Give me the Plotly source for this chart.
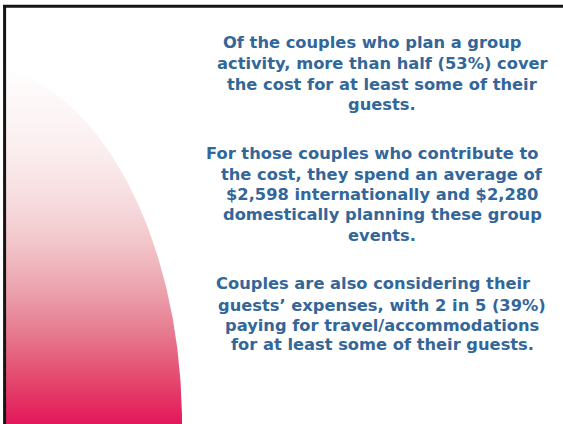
import numpy as np
import plotly.graph_objects as go

W, H = 563, 424

# Text content (one entry per rendered line), with line centres in pixels
para_lines = [
    "Of the couples who plan a group",
    "activity, more than half (53%) cover",
    "the cost for at least some of their",
    "guests.",
    "For those couples who contribute to",
    "the cost, they spend an average of",
    "$2,598 internationally and $2,280",
    "domestically planning these group",
    "events.",
    "Couples are also considering their",
    "guests\u2019 expenses, with 2 in 5 (39%)",
    "paying for travel/accommodations",
    "for at least some of their guests.",
]
line_x = [372, 382, 382, 382, 372, 382, 382, 382, 382, 373, 382, 382, 382]
line_y = [42, 63, 84, 104.5, 153.6, 174, 194, 214.6, 235, 283.7, 305, 325.4, 344.8]

TEXT_COLOR = "#336699"

# Gradient stops (fraction from bottom of shape, colour)
grad_pos = [0.0, 0.122, 0.252, 0.371, 0.504, 0.620, 0.759, 1.0]
grad_col = ["#E3175A", "#E4486C", "#E67A8F", "#ECA2AD", "#F2C6CB", "#F7DCDF", "#FBEEEF", "#FFFFFF"]

# Decorative quarter-ellipse on the left (pixel geometry)
cx, cy, a, b = -30, 424, 212, 361
left_edge = 5
ys = np.linspace(cy - b, cy, 200)
xs = cx + a * np.sqrt(np.clip(1 - ((cy - ys) / b) ** 2, 0, 1))
xs = np.maximum(xs, left_edge)
poly_x = np.concatenate([[left_edge], xs, [left_edge]])
poly_y = np.concatenate([[cy - b], ys, [cy]])
poly_y_up = H - poly_y

fig = go.Figure()
fig.add_trace(go.Scatter(
    x=poly_x, y=poly_y_up, mode="lines", fill="toself",
    line=dict(width=0, color="rgba(0,0,0,0)"),
    fillgradient=dict(type="vertical", colorscale=list(zip(grad_pos, grad_col))),
    hoverinfo="skip", showlegend=False,
))

shapes = [
    dict(type="line", xref="x", yref="y", x0=3, x1=W, y0=H - 6.3, y1=H - 6.3,
         line=dict(color="#151515", width=3)),
    dict(type="line", xref="x", yref="y", x0=4.6, x1=4.6, y0=0, y1=H - 5,
         line=dict(color="#151515", width=3)),
]

annotations = []
for t, x, y in zip(para_lines, line_x, line_y):
    annotations.append(dict(
        x=x, y=H - y, xref="x", yref="y", text="<b>" + t + "</b>",
        showarrow=False, xanchor="center", yanchor="middle",
        font=dict(family="DejaVu Sans, sans-serif", size=16.3, color=TEXT_COLOR),
    ))

fig.update_layout(
    width=W, height=H,
    margin=dict(l=0, r=0, t=0, b=0),
    paper_bgcolor="white", plot_bgcolor="white",
    xaxis=dict(range=[0, W], visible=False, fixedrange=True),
    yaxis=dict(range=[0, H], visible=False, fixedrange=True),
    shapes=shapes, annotations=annotations,
)
fig.write_html(
    "out.html",
    config={"displayModeBar": False, "staticPlot": True},
    post_script="document.body.style.margin='0';document.body.style.overflow='hidden';",
)
